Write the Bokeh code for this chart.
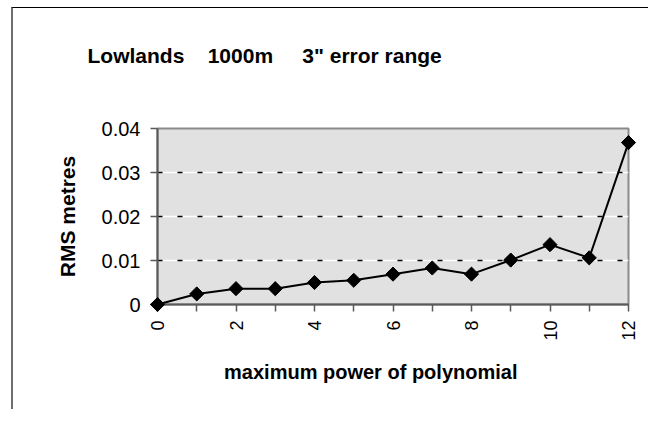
from bokeh.plotting import figure
from bokeh.models import Range1d, FixedTicker, Grid, Title
from bokeh.embed import file_html
from bokeh.resources import INLINE
import math

# ---- data ----
powers = [0, 1, 2, 3, 4, 5, 6, 7, 8, 9, 10, 11, 12]
rms_metres = [0.0, 0.0024, 0.0036, 0.0036, 0.0050, 0.0055, 0.0069, 0.0083,
              0.0069, 0.0101, 0.0136, 0.0106, 0.0368]
x_major_ticks = [0, 2, 4, 6, 8, 10, 12]
x_minor_ticks = [1, 3, 5, 7, 9, 11]
y_ticks = [0, 0.01, 0.02, 0.03, 0.04]
y_grid_ticks = [0.01, 0.02, 0.03]
NB = "\u00a0"
title_text = "Lowlands" + NB * 3 + " 1000m" + NB * 4 + " 3\" error range"
x_title = "maximum power of polynomial"
y_title = "RMS metres"

FONT = "Liberation Sans"

p = figure(width=637, height=402, output_backend="svg", toolbar_location=None,
           x_range=Range1d(0, 12), y_range=Range1d(0, 0.04),
           min_border_left=144, min_border_right=22,
           min_border_top=120, min_border_bottom=106)
p.styles = {"margin-left": "11px", "margin-top": "7px",
            "border-left": "2px solid #6e6e6e",
            "border-top": "1px solid #000000"}

p.background_fill_color = "#e1e1e1"
p.border_fill_color = "white"
p.outline_line_color = "#8a8a8a"
p.outline_line_width = 2

# grid: white line with black dashes
p.xgrid.visible = False
p.ygrid.ticker = FixedTicker(ticks=y_grid_ticks)
p.ygrid.grid_line_color = "white"
p.ygrid.grid_line_width = 1.5
g2 = Grid(dimension=1, ticker=FixedTicker(ticks=y_grid_ticks),
          grid_line_color="black", grid_line_width=1.5, grid_line_dash="5 15")
p.add_layout(g2)

# axes
xa = p.xaxis[0]
xa.ticker = FixedTicker(ticks=x_major_ticks, minor_ticks=x_minor_ticks)
xa.major_label_orientation = math.pi / 2
xa.major_label_text_font = FONT
xa.major_label_text_font_size = "18px"
xa.major_label_text_color = "black"
xa.major_label_standoff = 9
xa.major_tick_in = 0
xa.major_tick_out = 7
xa.minor_tick_in = 0
xa.minor_tick_out = 7
xa.axis_line_color = "#5a5a5a"
xa.axis_line_width = 2
xa.major_tick_line_color = "#5a5a5a"
xa.minor_tick_line_color = "#5a5a5a"
xa.major_tick_line_width = 1.5
xa.minor_tick_line_width = 1.5
xa.axis_label = x_title + NB * 8
xa.axis_label_text_font = FONT
xa.axis_label_text_font_size = "20px"
xa.axis_label_text_font_style = "bold"
xa.axis_label_text_color = "black"
xa.axis_label_standoff = 17

ya = p.yaxis[0]
ya.ticker = FixedTicker(ticks=y_ticks)
ya.major_label_overrides = {0: "0"}
ya.major_label_text_font = FONT
ya.major_label_text_font_size = "20px"
ya.major_label_text_color = "black"
ya.major_label_standoff = 10
ya.major_tick_in = 0
ya.major_tick_out = 7
ya.minor_tick_line_color = None
ya.axis_line_color = "#5a5a5a"
ya.axis_line_width = 2
ya.major_tick_line_color = "#5a5a5a"
ya.major_tick_line_width = 1.5
ya.axis_label = y_title
ya.axis_label_text_font = FONT
ya.axis_label_text_font_size = "21px"
ya.axis_label_text_font_style = "bold"
ya.axis_label_text_color = "black"
ya.axis_label_standoff = 20

# spacer between frame and title (closest to the frame), then the title
p.add_layout(Title(text=NB, text_font=FONT, text_font_size="21px", standoff=37,
                   text_color="white"), "above")
p.add_layout(Title(text=title_text, align="left", offset=-70, standoff=0,
                   text_font=FONT, text_font_size="21px", text_font_style="bold",
                   text_color="black"), "above")

# data
p.line(powers, rms_metres, line_color="black", line_width=2, level="overlay")
p.scatter(powers, rms_metres, marker="square", angle=math.pi / 4, size=10,
          fill_color="black", line_color="black", level="overlay")

open("out.html", "w").write(file_html(p, INLINE))
